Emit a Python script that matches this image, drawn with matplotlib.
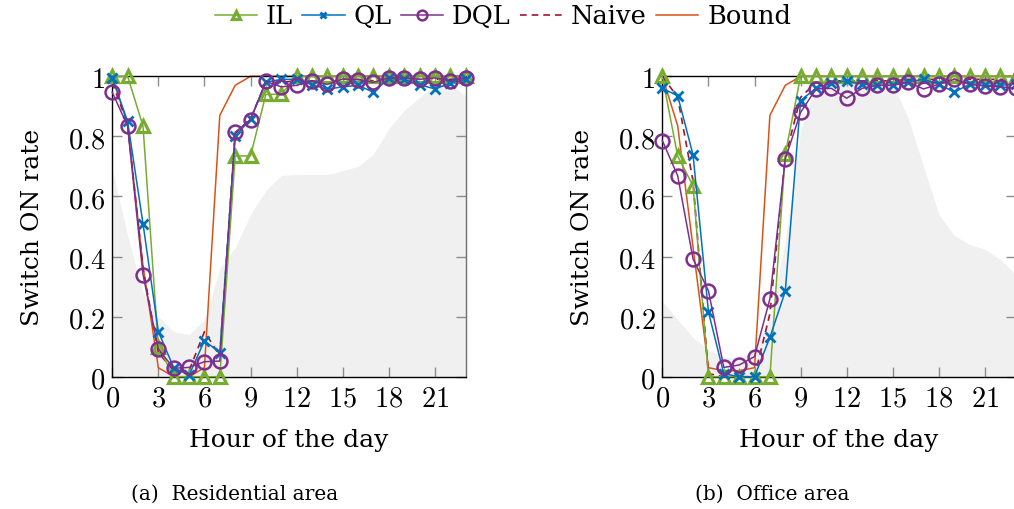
import matplotlib
matplotlib.use("Agg")
import matplotlib.pyplot as plt
from matplotlib.ticker import FuncFormatter
import numpy as np

hours = list(range(24))

# Residential area
res_il = [1.0, 1.0, 0.835, 0.10, 0.0, 0.0, 0.0, 0.0, 0.735, 0.735, 0.94, 0.94,
          1.0, 1.0, 1.0, 1.0, 1.0, 1.0, 1.0, 1.0, 1.0, 1.0, 1.0, 1.0]
res_ql = [0.995, 0.85, 0.51, 0.15, 0.03, 0.005, 0.12, 0.08, 0.80, 0.858, 0.98, 0.99,
          0.99, 0.972, 0.957, 0.965, 0.97, 0.947, 0.993, 0.99, 0.972, 0.958, 0.977, 0.99]
res_dql = [0.947, 0.834, 0.34, 0.092, 0.028, 0.031, 0.05, 0.052, 0.814, 0.855, 0.983, 0.965,
           0.97, 0.984, 0.973, 0.991, 0.989, 0.98, 0.995, 0.995, 0.99, 0.995, 0.985, 0.995]
res_naive = [0.98, 0.84, 0.36, 0.08, 0.02, 0.02, 0.15, 0.07, 0.81, 0.86, 0.98, 0.98,
             0.985, 0.985, 0.98, 0.99, 0.99, 0.985, 0.995, 0.995, 0.99, 0.99, 0.99, 0.995]
res_bound = [1.0, 0.84, 0.37, 0.03, 0.0, 0.0, 0.03, 0.87, 0.97, 1.0, 1.0, 1.0,
             1.0, 1.0, 1.0, 1.0, 1.0, 1.0, 1.0, 1.0, 1.0, 1.0, 1.0, 1.0]
res_profile = [0.69, 0.47, 0.28, 0.20, 0.15, 0.14, 0.19, 0.36, 0.43, 0.54, 0.62, 0.67,
               0.673, 0.673, 0.673, 0.686, 0.70, 0.741, 0.825, 0.886, 0.93, 0.969, 0.975, 0.935]

# Office area
off_il = [1.0, 0.734, 0.636, 0.0, 0.0, 0.0, 0.0, 0.0, 0.741, 1.0, 1.0, 1.0,
          1.0, 1.0, 1.0, 1.0, 1.0, 1.0, 1.0, 1.0, 1.0, 1.0, 1.0, 1.0]
off_ql = [0.96, 0.935, 0.738, 0.216, 0.01, 0.0, 0.0, 0.131, 0.284, 0.919, 0.961, 0.977,
          0.985, 0.974, 0.97, 0.97, 0.982, 0.99, 0.974, 0.947, 0.974, 0.97, 0.97, 0.974]
off_dql = [0.786, 0.669, 0.392, 0.286, 0.031, 0.039, 0.067, 0.259, 0.725, 0.88, 0.958, 0.96,
           0.927, 0.96, 0.97, 0.97, 0.98, 0.958, 0.974, 0.99, 0.974, 0.967, 0.965, 0.96]
off_naive = [1.0, 0.93, 0.65, 0.01, 0.0, 0.0, 0.0, 0.21, 0.73, 0.93, 0.98, 0.985,
             0.985, 0.985, 0.985, 0.985, 0.99, 0.99, 0.99, 0.99, 0.99, 0.99, 0.99, 0.99]
off_bound = [1.0, 0.835, 0.43, 0.03, 0.02, 0.02, 0.03, 0.87, 0.97, 1.0, 1.0, 1.0,
             1.0, 1.0, 1.0, 1.0, 1.0, 1.0, 1.0, 1.0, 1.0, 1.0, 1.0, 1.0]
off_profile = [0.25, 0.19, 0.13, 0.09, 0.065, 0.065, 0.085, 0.20, 0.45, 0.82, 0.97, 0.98,
               0.98, 0.98, 0.98, 0.975, 0.86, 0.70, 0.54, 0.47, 0.44, 0.425, 0.39, 0.34]

x_ticks = [0, 3, 6, 9, 12, 15, 18, 21]
y_ticks = [0, 0.2, 0.4, 0.6, 0.8, 1]
captions = ["(a)  Residential area", "(b)  Office area"]

C_IL = "#77AC30"
C_QL = "#0072BD"
C_DQL = "#7E2F8E"
C_NAIVE = "#A2142F"
C_BOUND = "#D95319"

plt.rcParams["mathtext.fontset"] = "cm"
SERIF = "DejaVu Serif"

fig = plt.figure(figsize=(10.14, 5.10), dpi=100)
ax_w = 0.3485
ax_h = 0.589
ax_b = 0.2594
axes = [fig.add_axes([0.1107, ax_b, ax_w, ax_h]),
        fig.add_axes([0.6532, ax_b, ax_w, ax_h])]

panels = [
    (res_il, res_ql, res_dql, res_naive, res_bound, res_profile),
    (off_il, off_ql, off_dql, off_naive, off_bound, off_profile),
]

fmt = FuncFormatter(lambda v, p: f"${v:g}$")
handles = None
for ax, (il, ql, dql, naive, bound, profile) in zip(axes, panels):
    ax.fill_between(hours, 0, profile, color="#f0f0f0", lw=0, zorder=0)
    hb, = ax.plot(hours, bound, color=C_BOUND, lw=1.1, zorder=2, clip_on=False)
    hn, = ax.plot(hours, naive, color=C_NAIVE, lw=1.2, ls=(0, (4, 3)), zorder=2.5,
                  clip_on=False)
    hi, = ax.plot(hours, il, color=C_IL, lw=1.1, marker="^", ms=8.5, mfc="none",
                  mew=2.3, zorder=3, clip_on=False)
    hq, = ax.plot(hours, ql, color=C_QL, lw=1.1, marker="x", ms=6.5, mew=2.0,
                  zorder=3.5, clip_on=False)
    hd, = ax.plot(hours, dql, color=C_DQL, lw=1.1, marker="o", ms=10, mfc="none",
                  mew=1.8, zorder=4, clip_on=False)
    handles = [hi, hq, hd, hn, hb]

    ax.set_xlim(0, 23)
    ax.set_ylim(0, 1)
    ax.set_xticks(x_ticks)
    ax.set_yticks(y_ticks)
    ax.xaxis.set_major_formatter(fmt)
    ax.yaxis.set_major_formatter(fmt)
    ax.tick_params(axis="both", which="major", direction="in", length=7,
                   width=1.0, color="#8c8c8c", labelsize=20.5,
                   top=True, right=True, labelcolor="black")
    ax.tick_params(axis="x", pad=5)
    ax.tick_params(axis="y", pad=5)
    for side in ("left", "bottom", "top"):
        ax.spines[side].set_color("black")
        ax.spines[side].set_linewidth(1.0)
    ax.spines["right"].set_color("#707070")
    ax.spines["right"].set_linewidth(1.0)
    ax.set_xlabel("Hour of the day", family=SERIF, fontsize=18, labelpad=12)
    ax.set_ylabel("Switch ON rate", family=SERIF, fontsize=18, labelpad=17)

fig.text(235 / 1014, 1 - 494 / 510, captions[0], family=SERIF, fontsize=14.5,
         ha="center", va="center")
fig.text(772 / 1014, 1 - 494 / 510, captions[1], family=SERIF, fontsize=14.5,
         ha="center", va="center")

fig.legend(handles, ["IL", "QL", "DQL", "Naive", "Bound"], loc="center",
           bbox_to_anchor=(503 / 1014, 1 - 17 / 510), ncol=5, frameon=False,
           prop={"family": SERIF, "size": 18.5}, handlelength=1.65,
           handletextpad=0.35, columnspacing=0.35, borderaxespad=0,
           borderpad=0, markerscale=0.7)

fig.savefig("out.png", dpi=100)
